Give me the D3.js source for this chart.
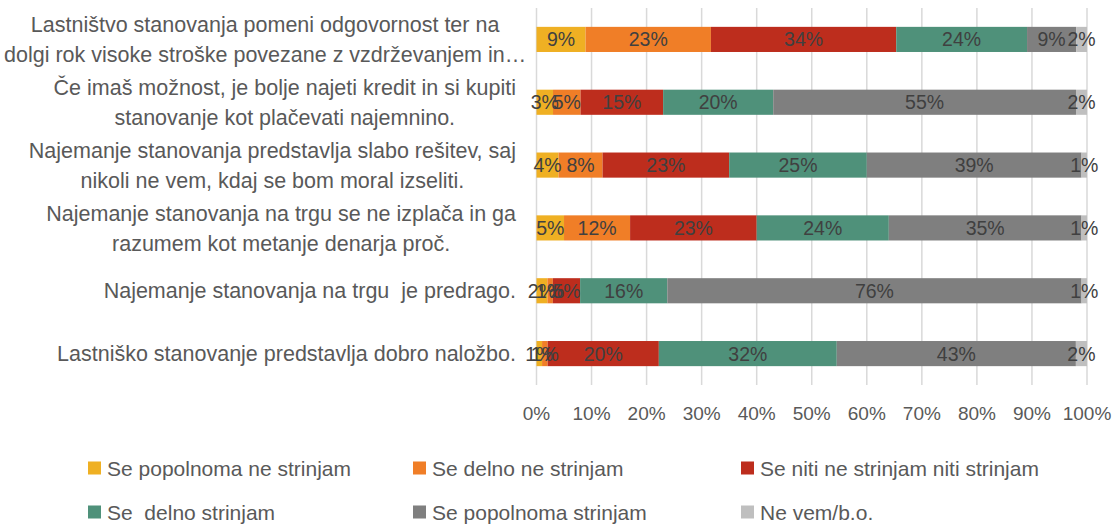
<!DOCTYPE html>
<html>
<head>
<meta charset="utf-8">
<title>Stanovanje</title>
<script src="https://d3js.org/d3.v7.min.js"></script>
<style>
  body { margin: 0; background: #fff; }
  svg text { font-family: "Liberation Sans", Arial, sans-serif; white-space: pre; }
</style>
</head>
<body>
<div id="chart"></div>
<script>
// categories, top to bottom (lines split with |)
var categories = [
  "Lastništvo stanovanja pomeni odgovornost ter na|dolgi rok visoke stroške povezane z vzdrževanjem in…",
  "Če imaš možnost, je bolje najeti kredit in si kupiti|stanovanje kot plačevati najemnino.",
  "Najemanje stanovanja predstavlja slabo rešitev, saj|nikoli ne vem, kdaj se bom moral izseliti.",
  "Najemanje stanovanja na trgu se ne izplača in ga|razumem kot metanje denarja proč.",
  "Najemanje stanovanja na trgu  je predrago.",
  "Lastniško stanovanje predstavlja dobro naložbo."
];
var seriesNames = [
  "Se popolnoma ne strinjam",
  "Se delno ne strinjam",
  "Se niti ne strinjam niti strinjam",
  "Se  delno strinjam",
  "Se popolnoma strinjam",
  "Ne vem/b.o."
];
var popolnomaNe = [9, 3, 4, 5, 2, 1];
var delnoNe     = [23, 5, 8, 12, 1, 1];
var nitiNiti    = [34, 15, 23, 23, 5, 20];
var delno       = [24, 20, 25, 24, 16, 32];
var popolnoma   = [9, 55, 39, 35, 76, 43];
var neVem       = [2, 2, 1, 1, 1, 2];
var tickLabels = [0, 0.1, 0.2, 0.3, 0.4, 0.5, 0.6, 0.7, 0.8, 0.9, 1];
var colors = ["#EFB023", "#F07E27", "#BD2D1D", "#4F917A", "#7F7F7F", "#BFBFBF"];

var allSeries = [popolnomaNe, delnoNe, nitiNiti, delno, popolnoma, neVem];

var width = 1115, height = 524;
var svg = d3.select("#chart").append("svg")
    .attr("width", width)
    .attr("height", height);

var x = d3.scaleLinear().domain([0, 1]).range([536.5, 1087]);
var y = d3.scaleBand().domain(d3.range(categories.length))
    .range([8, 385]).paddingInner(0.6).paddingOuter(0.3);

// gridlines
svg.append("g").selectAll("line")
  .data(tickLabels).enter().append("line")
    .attr("x1", function(d) { return x(d); })
    .attr("x2", function(d) { return x(d); })
    .attr("y1", 8).attr("y2", 385)
    .attr("stroke", "#D9D9D9").attr("stroke-width", 1.5);

// stack rows (100% stacked)
var rows = categories.map(function(c, i) {
  var tot = d3.sum(allSeries, function(s) { return s[i]; });
  var acc = 0;
  return allSeries.map(function(s, k) {
    var seg = { row: i, k: k, v: s[i], x0: acc / tot, x1: (acc + s[i]) / tot };
    acc += s[i];
    return seg;
  });
});
var segs = d3.merge(rows);

svg.append("g").selectAll("rect")
  .data(segs).enter().append("rect")
    .attr("x", function(d) { return x(d.x0); })
    .attr("width", function(d) { return x(d.x1) - x(d.x0); })
    .attr("y", function(d) { return y(d.row); })
    .attr("height", y.bandwidth())
    .attr("fill", function(d) { return colors[d.k]; });

svg.append("g").selectAll("text")
  .data(segs).enter().append("text")
    .attr("x", function(d) { return (x(d.x0) + x(d.x1)) / 2; })
    .attr("y", function(d) { return y(d.row) + y.bandwidth() / 2; })
    .attr("dy", "0.36em")
    .attr("text-anchor", "middle")
    .attr("font-size", 19.5)
    .attr("fill", "#404040")
    .text(function(d) { return d.v + "%"; });

// category labels: block right-aligned, lines centered inside
var catG = svg.append("g");
categories.forEach(function(c, i) {
  var lines = c.split("|");
  var cy = y(i) + y.bandwidth() / 2;
  var lh = 30;
  var t = catG.append("text")
    .attr("font-size", 21.5)
    .attr("fill", "#595959")
    .attr("text-anchor", "middle");
  var spans = lines.map(function(l, j) {
    return t.append("tspan")
      .attr("y", cy + (j - (lines.length - 1) / 2) * lh)
      .attr("dy", "0.36em")
      .text(l);
  });
  var maxW = d3.max(spans, function(s) { return s.node().getComputedTextLength(); });
  var right = Math.max(516, maxW + 4);
  spans.forEach(function(s) { s.attr("x", right - maxW / 2); });
});

// x axis tick labels
svg.append("g").selectAll("text")
  .data(tickLabels).enter().append("text")
    .attr("x", function(d) { return x(d); })
    .attr("y", 413)
    .attr("dy", "0.36em")
    .attr("text-anchor", "middle")
    .attr("font-size", 19)
    .attr("fill", "#595959")
    .text(function(d) { return Math.round(d * 100) + "%"; });

// legend
var legX = [88, 413, 741], legY = [468, 512];
var leg = svg.append("g").selectAll("g")
  .data(seriesNames).enter().append("g")
    .attr("transform", function(d, i) {
      return "translate(" + legX[i % 3] + "," + legY[Math.floor(i / 3)] + ")";
    });
leg.append("rect")
    .attr("x", 0).attr("y", -6.5)
    .attr("width", 13).attr("height", 13)
    .attr("fill", function(d, i) { return colors[i]; });
leg.append("text")
    .attr("x", 19)
    .attr("dy", "0.36em")
    .attr("font-size", 21)
    .attr("fill", "#595959")
    .text(function(d) { return d; });
</script>
</body>
</html>
